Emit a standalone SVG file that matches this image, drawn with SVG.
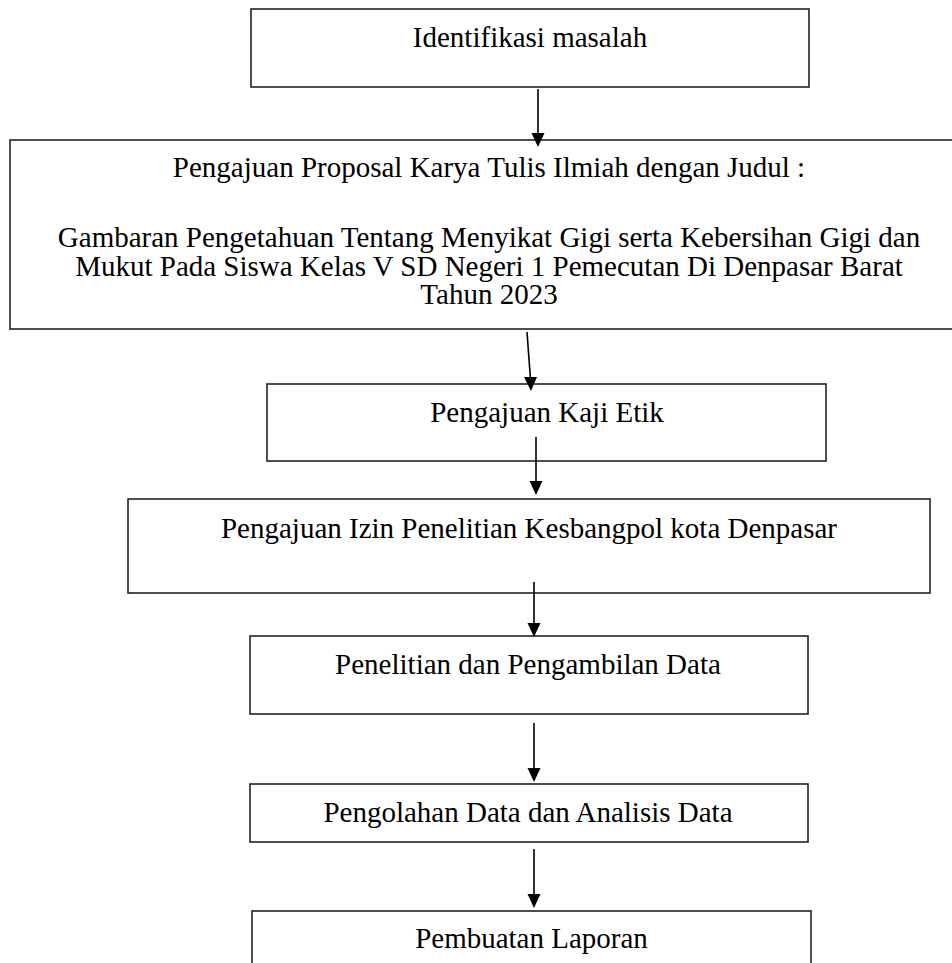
<svg xmlns="http://www.w3.org/2000/svg" width="952" height="963" viewBox="0 0 952 963">
<style>
  .box { fill: #ffffff; stroke: #222222; stroke-width: 1.6; }
  .lbl { font-family: "Liberation Serif", "Times New Roman", serif; font-size: 29px; fill: #000000; text-anchor: middle; }
  .edge { stroke: #000000; stroke-width: 1.6; fill: none; }
  .head { fill: #000000; }
</style>
<rect x="0" y="0" width="952" height="963" fill="#ffffff"/>

<g id="node-identifikasi">
  <rect class="box" x="251" y="9" width="558" height="78"/>
  <text class="lbl" x="530" y="47">Identifikasi masalah</text>
</g>

<g id="node-proposal">
  <rect class="box" x="10" y="140" width="960" height="189"/>
  <text class="lbl" x="489" y="177">Pengajuan Proposal Karya Tulis Ilmiah dengan Judul :</text>
  <text class="lbl" x="489" y="247">Gambaran Pengetahuan Tentang Menyikat Gigi serta Kebersihan Gigi dan</text>
  <text class="lbl" x="489" y="276">Mukut Pada Siswa Kelas V SD Negeri 1 Pemecutan Di Denpasar Barat</text>
  <text class="lbl" x="489" y="304">Tahun 2023</text>
</g>

<g id="node-kaji-etik">
  <rect class="box" x="267" y="384" width="559" height="77"/>
  <text class="lbl" x="547" y="422">Pengajuan Kaji Etik</text>
</g>

<g id="node-izin">
  <rect class="box" x="128" y="499" width="802" height="94"/>
  <text class="lbl" x="529" y="538">Pengajuan Izin Penelitian Kesbangpol kota Denpasar</text>
</g>

<g id="node-penelitian">
  <rect class="box" x="250" y="636" width="558" height="78"/>
  <text class="lbl" x="528" y="674">Penelitian dan Pengambilan Data</text>
</g>

<g id="node-pengolahan">
  <rect class="box" x="250" y="784" width="558" height="58"/>
  <text class="lbl" x="528" y="822">Pengolahan Data dan Analisis Data</text>
</g>

<g id="node-laporan">
  <rect class="box" x="252" y="911" width="559" height="90"/>
  <text class="lbl" x="531.5" y="948">Pembuatan Laporan</text>
</g>

<g id="connectors">
  <line class="edge" x1="538" y1="89" x2="538" y2="134"/>
  <polygon class="head" points="531.5,133 544.5,133 538,147"/>

  <line class="edge" x1="527" y1="332" x2="530.4" y2="378"/>
  <polygon class="head" points="524,377 537,377 531,391"/>

  <line class="edge" x1="536" y1="437" x2="536" y2="482"/>
  <polygon class="head" points="529.5,481 542.5,481 536,495"/>

  <line class="edge" x1="534" y1="582" x2="534" y2="624"/>
  <polygon class="head" points="527.5,623 540.5,623 534,637"/>

  <line class="edge" x1="534" y1="723" x2="534" y2="769"/>
  <polygon class="head" points="527.5,768 540.5,768 534,782"/>

  <line class="edge" x1="534" y1="849" x2="534" y2="895"/>
  <polygon class="head" points="527.5,894 540.5,894 534,908"/>
</g>
</svg>
